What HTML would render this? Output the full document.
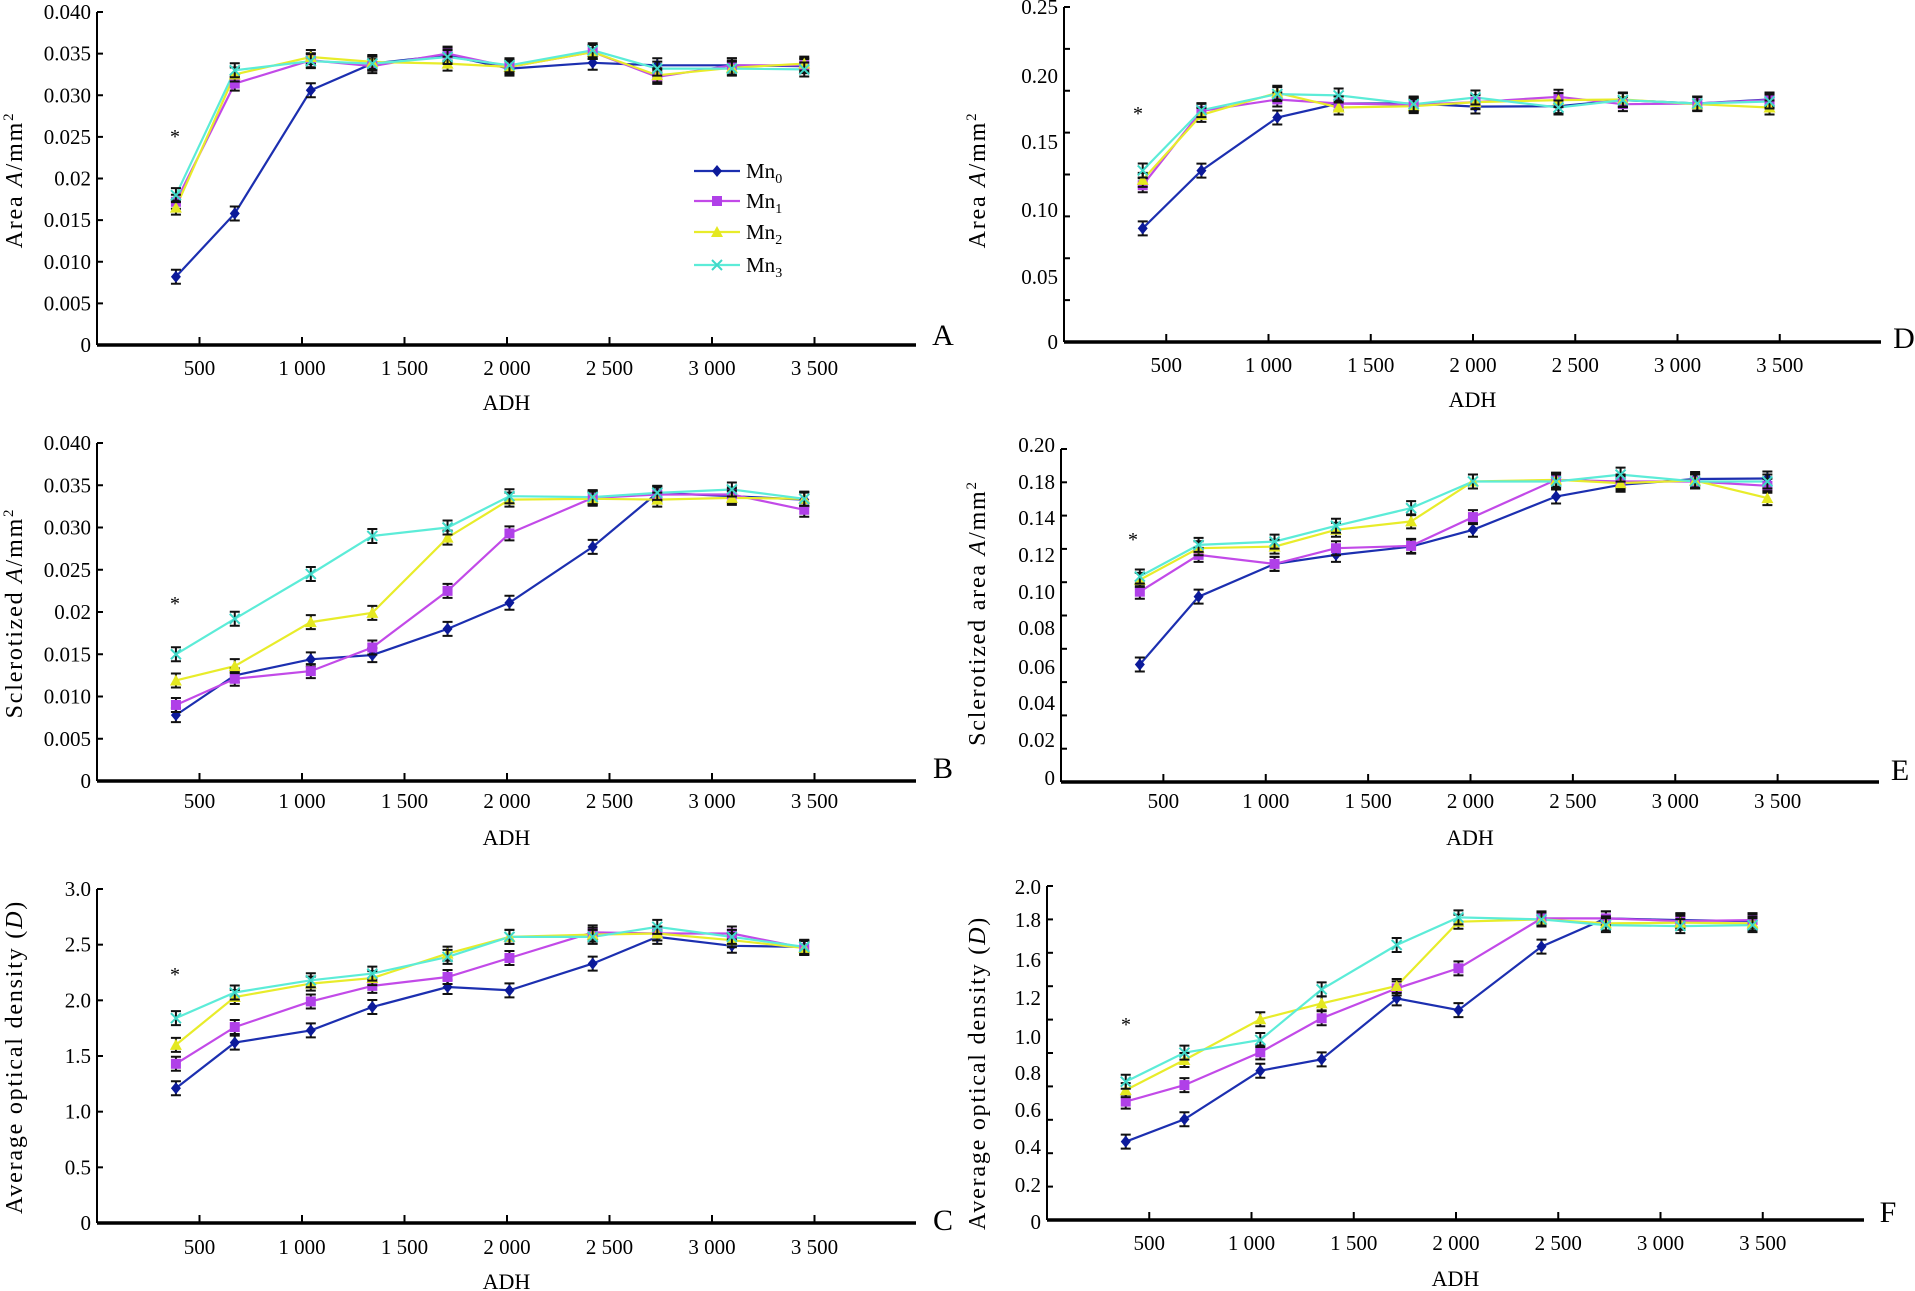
<!DOCTYPE html>
<html><head><meta charset="utf-8">
<style>
html,body{margin:0;padding:0;background:#fff;}
svg{display:block;font-family:"Liberation Serif",serif;}
</style></head>
<body>
<svg id="fig" width="1915" height="1291" viewBox="0 0 1915 1291" xmlns="http://www.w3.org/2000/svg"></svg>
<script>
// ADH x values (shared)
const xVals = [385, 672, 1043, 1343, 1710, 2012, 2418, 2733, 3097, 3450];
const xTicks = [500, 1000, 1500, 2000, 2500, 3000, 3500];
const xTickLabels = ["500", "1 000", "1 500", "2 000", "2 500", "3 000", "3 500"];
const seriesNames = ["Mn0", "Mn1", "Mn2", "Mn3"];

// Panel A: Area
const aMn0 = [0.0082, 0.0158, 0.0306, 0.0338, 0.0348, 0.0332, 0.0339, 0.0336, 0.0336, 0.0335];
const aMn1 = [0.0172, 0.0314, 0.0342, 0.0335, 0.0350, 0.0334, 0.0352, 0.0322, 0.0336, 0.0336];
const aMn2 = [0.0165, 0.0325, 0.0346, 0.0340, 0.0338, 0.0334, 0.0352, 0.0324, 0.0333, 0.0338];
const aMn3 = [0.0180, 0.0330, 0.0341, 0.0338, 0.0346, 0.0336, 0.0354, 0.0332, 0.0332, 0.0331];
const aTickLabels = ["0", "0.005", "0.010", "0.015", "0.02", "0.025", "0.030", "0.035", "0.040"];
// Panel B: Sclerotized
const bMn0 = [0.0078, 0.0125, 0.0144, 0.0149, 0.0180, 0.0211, 0.0277, 0.0341, 0.0337, 0.0333];
const bMn1 = [0.0090, 0.0121, 0.0130, 0.0158, 0.0225, 0.0293, 0.0335, 0.0339, 0.0339, 0.0321];
const bMn2 = [0.0119, 0.0136, 0.0188, 0.0199, 0.0288, 0.0333, 0.0334, 0.0333, 0.0335, 0.0334];
const bMn3 = [0.0150, 0.0192, 0.0245, 0.0290, 0.0300, 0.0337, 0.0336, 0.0341, 0.0345, 0.0334];
const bTickLabels = ["0", "0.005", "0.010", "0.015", "0.02", "0.025", "0.030", "0.035", "0.040"];
// Panel C: optical density
const cMn0 = [1.21, 1.62, 1.73, 1.94, 2.12, 2.09, 2.33, 2.57, 2.49, 2.48];
const cMn1 = [1.43, 1.76, 1.99, 2.13, 2.21, 2.38, 2.61, 2.60, 2.60, 2.47];
const cMn2 = [1.60, 2.03, 2.15, 2.20, 2.42, 2.57, 2.59, 2.60, 2.54, 2.47];
const cMn3 = [1.84, 2.07, 2.18, 2.24, 2.39, 2.57, 2.57, 2.66, 2.57, 2.48];
const cTickLabels = ["0", "0.5", "1.0", "1.5", "2.0", "2.5", "3.0"];
// Panel D: Area
const dMn0 = [0.0848, 0.1279, 0.1675, 0.178, 0.178, 0.1757, 0.176, 0.1805, 0.178, 0.181];
const dMn1 = [0.117, 0.1725, 0.181, 0.178, 0.177, 0.179, 0.183, 0.1775, 0.178, 0.1805];
const dMn2 = [0.121, 0.1695, 0.186, 0.175, 0.176, 0.179, 0.1805, 0.181, 0.1775, 0.175];
const dMn3 = [0.128, 0.173, 0.185, 0.184, 0.1775, 0.1825, 0.175, 0.1805, 0.178, 0.1795];
const dTickLabels = ["0", "0.05", "0.10", "0.15", "0.20", "0.25"];
// Panel E: Sclerotized area
const eMn0 = [0.0706, 0.1113, 0.1310, 0.1364, 0.1414, 0.1515, 0.1715, 0.1785, 0.1820, 0.1823];
const eMn1 = [0.1143, 0.1364, 0.1310, 0.1404, 0.1418, 0.1591, 0.1815, 0.1805, 0.1805, 0.1779];
const eMn2 = [0.1214, 0.1404, 0.1414, 0.1515, 0.1565, 0.1805, 0.1815, 0.1795, 0.1811, 0.1705];
const eMn3 = [0.1234, 0.1424, 0.1444, 0.1539, 0.1645, 0.1805, 0.1805, 0.1846, 0.1805, 0.1805];
const eTickLabels = ["0", "0.02", "0.04", "0.06", "0.08", "0.10", "0.12", "0.14", "0.18", "0.20"];
// Panel F: optical density
const fMn0 = [0.469, 0.603, 0.894, 0.962, 1.327, 1.257, 1.637, 1.806, 1.796, 1.790];
const fMn1 = [0.709, 0.808, 1.004, 1.208, 1.387, 1.507, 1.806, 1.806, 1.790, 1.796];
const fMn2 = [0.778, 0.958, 1.202, 1.297, 1.401, 1.786, 1.800, 1.776, 1.780, 1.776];
const fMn3 = [0.828, 1.002, 1.078, 1.381, 1.647, 1.812, 1.800, 1.766, 1.760, 1.766];
const fTickLabels = ["0", "0.2", "0.4", "0.6", "0.8", "1.0", "1.2", "1.6", "1.8", "2.0"];

const NS = "http://www.w3.org/2000/svg";
const svg = document.getElementById("fig");
const colors = ["#1c2fb0", "#c24ae8", "#e8ec2a", "#5cecd8"];
const markerFill = ["#0c1a9a", "#b040e8", "#e4e820", "#40d8c8"];

function mk(tag, attrs, parent) {
  const e = document.createElementNS(NS, tag);
  for (const k in attrs) e.setAttribute(k, attrs[k]);
  (parent || svg).appendChild(e);
  return e;
}

const panels = [
  {id:"a", letter:"A", series:[aMn0,aMn1,aMn2,aMn3], yMax:0.040, ax:97, axEnd:916, top:12, zero:345, nTicks:9, labels:aTickLabels, labelY:null,
   title:["Area ", "A", "/mm"], tx:22, ty:180, tickLabY:375, adhY:410, star:[175,135], letX:943, letY:345, legend:true},
  {id:"b", letter:"B", series:[bMn0,bMn1,bMn2,bMn3], yMax:0.040, ax:97, axEnd:916, top:443, zero:781, nTicks:9, labels:bTickLabels, labelY:null,
   title:["Sclerotized ", "A", "/mm"], tx:22, ty:613, tickLabY:808, adhY:845, star:[175,602], letX:943, letY:778},
  {id:"c", letter:"C", series:[cMn0,cMn1,cMn2,cMn3], yMax:3.0, ax:97, axEnd:916, top:889, zero:1223, nTicks:7, labels:cTickLabels, labelY:null,
   title:["Average optical density (", "D", ")"], tx:22, ty:1057, tickLabY:1254, adhY:1289, star:[175,973], letX:943, letY:1230},
  {id:"d", letter:"D", series:[dMn0,dMn1,dMn2,dMn3], yMax:0.25, ax:1064, axEnd:1881, top:7, zero:342, nTicks:9, labels:dTickLabels, labelY:[342,277,210,142,76,7],
   title:["Area  ", "A", "/mm"], tx:985, ty:180, tickLabY:372, adhY:407, star:[1138,112], letX:1904, letY:348},
  {id:"e", letter:"E", series:[eMn0,eMn1,eMn2,eMn3], yMax:0.20, ax:1061, axEnd:1879, top:449, zero:782, nTicks:11, labels:eTickLabels, labelY:[778,740,703,667,628,592,555,518,482,445],
   title:["Sclerotized area ", "A", "/mm"], tx:985, ty:613, tickLabY:808, adhY:845, star:[1133,538], letX:1900, letY:780},
  {id:"f", letter:"F", series:[fMn0,fMn1,fMn2,fMn3], yMax:2.0, ax:1047, axEnd:1864, top:886, zero:1220, nTicks:11, labels:fTickLabels, labelY:[1222,1185,1147,1110,1073,1037,998,960,920,887],
   title:["Average optical density (", "D", ")"], tx:985, ty:1073, tickLabY:1250, adhY:1286, star:[1126,1023], letX:1888, letY:1222}
];

function drawMarker(g, k, x, y) {
  let m;
  if (k === 0) {
    m = mk("path", {d:`M${x} ${y-6}L${x+5} ${y}L${x} ${y+6}L${x-5} ${y}Z`, fill:markerFill[0]}, g);
  } else if (k === 1) {
    m = mk("rect", {x:x-5, y:y-5, width:10, height:10, fill:markerFill[1]}, g);
  } else if (k === 2) {
    m = mk("path", {d:`M${x} ${y-6}L${x+6} ${y+5}L${x-6} ${y+5}Z`, fill:markerFill[2]}, g);
  } else {
    m = mk("path", {d:`M${x-5} ${y-5}L${x+5} ${y+5}M${x+5} ${y-5}L${x-5} ${y+5}`, stroke:markerFill[3], "stroke-width":2}, g);
  }
  
  
}

panels.forEach(p => {
  const g = mk("g", {});
  
  
  const xScale = v => p.ax + v / 4000 * (p.axEnd + 1 - p.ax);
  const yScale = v => p.zero - v / p.yMax * (p.zero - p.top);

  const ya = mk("line", {x1:p.ax, y1:p.top, x2:p.ax, y2:p.zero, stroke:"#000", "stroke-width":2}, g);
  
  
  for (let i = 0; i < p.nTicks; i++) {
    const ty = p.zero - i * (p.zero - p.top) / (p.nTicks - 1);
    const t = mk("line", {x1:p.ax, y1:ty, x2:p.ax + 6, y2:ty, stroke:"#000", "stroke-width":2}, g);
    
    
  }
  p.labels.forEach((lab, i) => {
    const ly = p.labelY ? p.labelY[i] : p.zero - i * (p.zero - p.top) / (p.nTicks - 1);
    const t = mk("text", {x:p.ax - 6, y:ly + 7, "text-anchor":"end", "font-size":21}, g);
    t.textContent = lab;
    
    
  });
  const xa = mk("line", {x1:p.ax, y1:p.zero, x2:p.axEnd, y2:p.zero, stroke:"#000", "stroke-width":3.5}, g);
  
  
  xTicks.forEach((v, i) => {
    const tx = xScale(v);
    const t = mk("line", {x1:tx, y1:p.zero - 8, x2:tx, y2:p.zero, stroke:"#000", "stroke-width":2}, g);
    
    
    const l = mk("text", {x:tx, y:p.tickLabY, "text-anchor":"middle", "font-size":21}, g);
    l.textContent = xTickLabels[i];
    
    
  });
  const adh = mk("text", {x:(p.ax + p.axEnd) / 2 - 0, y:p.adhY, "text-anchor":"middle", "font-size":22}, g);
  adh.textContent = "ADH";
  
  
  const letter = mk("text", {x:p.letX, y:p.letY, "text-anchor":"middle", "font-size":30}, g);
  letter.textContent = p.letter;
  
  

  const yt = mk("text", {transform:`translate(${p.tx},${p.ty}) rotate(-90)`, "text-anchor":"middle", "font-size":24, "letter-spacing":1.8}, g);
  
  
  const s1 = mk("tspan", {}, yt); s1.textContent = p.title[0];
  const s2 = mk("tspan", {"font-style":"italic"}, yt); s2.textContent = p.title[1];
  const s3 = mk("tspan", {}, yt); s3.textContent = p.title[2];
  if (p.title[2] === "/mm") { const s4 = mk("tspan", {"font-size":15, dy:-9}, yt); s4.textContent = "2"; }

  const st = mk("text", {x:p.star[0], y:p.star[1] + 8, "text-anchor":"middle", "font-size":20}, g);
  st.textContent = "*";
  
  

  p.series.forEach((vals, k) => {
    const sg = mk("g", {}, g);
    
    
    const pts = vals.map((v, i) => xScale(xVals[i]).toFixed(1) + "," + yScale(v).toFixed(1)).join(" ");
    const line = mk("polyline", {points:pts, fill:"none", stroke:colors[k], "stroke-width":2.2}, sg);
    
    
  });
  p.series.forEach((vals, k) => {
    vals.forEach((v, i) => {
      const x = xScale(xVals[i]), y = yScale(v);
      const eb = mk("path", {d:`M${x-5} ${y-7}H${x+5}M${x} ${y-7}V${y+7}M${x-5} ${y+7}H${x+5}`, stroke:"#111", "stroke-width":2, fill:"none"}, g);
      
      
      drawMarker(g, k, x, y);
    });
  });

  if (p.legend) {
    const lg = mk("g", {}, g);
    
    
    const ly = [171, 201, 232, 265];
    seriesNames.forEach((n, k) => {
      const e = mk("g", {}, lg);
      
      
      mk("line", {x1:694, y1:ly[k], x2:740, y2:ly[k], stroke:colors[k], "stroke-width":2.2}, e);
      drawMarker(e, k, 717, ly[k]);
      const t = mk("text", {x:746, y:ly[k] + 7, "font-size":21}, e);
      const a = mk("tspan", {}, t); a.textContent = "Mn";
      const b = mk("tspan", {"font-size":14, dy:5}, t); b.textContent = String(k);
    });
  }
});
</script>
</body></html>
